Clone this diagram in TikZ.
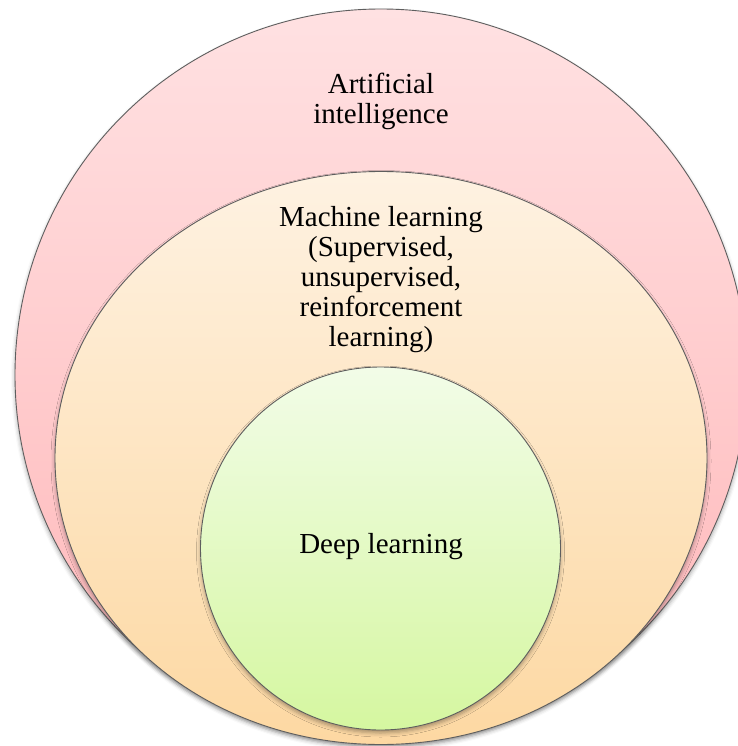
\documentclass[tikz,border=0pt]{standalone}
\usepackage{fontspec}
\setmainfont{Liberation Serif}
\usetikzlibrary{shapes.geometric,shadows.blur}
\definecolor{edgegray}{HTML}{5E5E5E}
\definecolor{aitop}{HTML}{FFE1E2}
\definecolor{aibot}{HTML}{FFB6B8}
\definecolor{mltop}{HTML}{FEF2E2}
\definecolor{mlbot}{HTML}{FDD8A2}
\definecolor{dltop}{HTML}{F2FCE8}
\definecolor{dlbot}{HTML}{D5F7A0}
\tikzset{
  set/.style={ellipse, inner sep=0pt, draw=edgegray, line width=0.9pt,
    blur shadow={shadow xshift=0pt, shadow yshift=-3pt, shadow blur radius=4pt, shadow opacity=35}},
  settext/.style={align=center, inner sep=0pt, font=\fontsize{29}{30}\selectfont}
}
\begin{document}
\begin{tikzpicture}[x=1pt,y=-1pt]
  \useasboundingbox (0,0) rectangle (737,746);
  % nested sets, largest first
  \node[set, top color=aitop, bottom color=aibot,
        minimum width=732pt, minimum height=732pt] (ai) at (381,375) {};
  \node[set, top color=mltop, bottom color=mlbot,
        minimum width=652pt, minimum height=573pt] (ml) at (381,458) {};
  \node[set, top color=dltop, bottom color=dlbot,
        minimum width=360pt, minimum height=363pt] (dl) at (380.5,548.5) {};
  % labels
  \node[settext] (ailabel) at (381,101) {Artificial\\intelligence};
  \node[settext] (mllabel) at (381,280) {Machine learning\\(Supervised,\\unsupervised,\\reinforcement\\learning)};
  \node[settext] (dllabel) at (381,547) {Deep learning};
\end{tikzpicture}
\end{document}
